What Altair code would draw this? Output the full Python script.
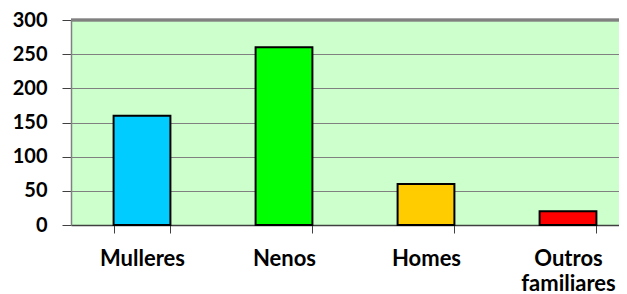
import altair as alt
import pandas as pd

categories = ["Mulleres", "Nenos", "Homes", "Outros familiares"]
values = [160, 260, 60, 20]
colors = ["#00CCFF", "#00FF00", "#FFCC00", "#FF0000"]
y_ticks = [0, 50, 100, 150, 200, 250, 300]
y_max = 300

df = pd.DataFrame({"cat": categories, "value": values})

font = "Lato"

bars = alt.Chart(df).mark_bar(stroke="black", strokeWidth=2).encode(
    x=alt.X(
        "cat:N",
        sort=categories,
        scale=alt.Scale(range=[0, 568], paddingInner=0.6, paddingOuter=0.3),
        axis=alt.Axis(
            title=None, labelAngle=0, tickBand="extent",
            labelExpr="split(datum.label, ' ')",
            labelFont=font, labelFontWeight="bold", labelFontSize=22,
            labelColor="black", labelPadding=15, labelLineHeight=25,
            labelBaseline="top",
            domainColor="#404040", domainWidth=1.5,
            tickColor="#404040", tickSize=8, tickWidth=1,
        ),
    ),
    y=alt.Y(
        "value:Q",
        scale=alt.Scale(domain=[0, y_max], nice=False),
        axis=alt.Axis(
            title=None, values=y_ticks, labelOverlap=False,
            labelFont=font, labelFontWeight="bold", labelFontSize=20,
            labelColor="black", labelPadding=15,
            domainColor="#808080", domainWidth=1.5,
            tickColor="#404040", tickSize=9, tickWidth=1,
            gridColor="#808080", gridWidth=1.2, gridOpacity=1,
        ),
    ),
    color=alt.Color("cat:N", scale=alt.Scale(domain=categories, range=colors), legend=None),
)

top_line = alt.Chart(df).mark_rule(color="#808080", strokeWidth=2.5).encode(
    y=alt.value(0)
)

chart = alt.layer(bars, top_line).properties(
    width=548, height=205,
    autosize=alt.AutoSizeParams(type="none"),
    padding={"left": 63, "top": 12, "right": 0, "bottom": 69},
    background="white",
).configure_view(fill="#CCFFCC", stroke=None)

chart.save("out.html", embed_options={"renderer": "svg", "actions": False})
